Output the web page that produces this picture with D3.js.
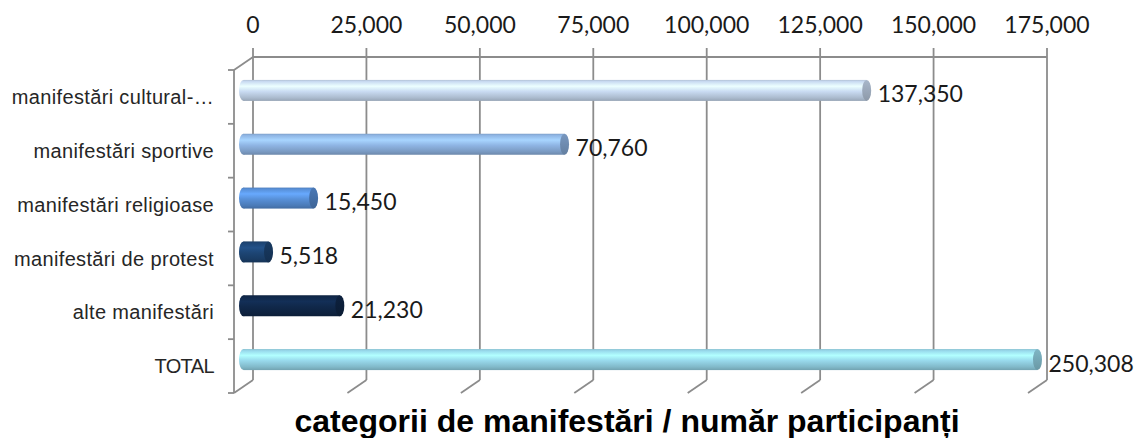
<!DOCTYPE html>
<html>
<head>
<meta charset="utf-8">
<script src="https://cdn.jsdelivr.net/npm/d3@7"></script>
<style>
  html, body { margin: 0; padding: 0; background: #fff; }
  svg { display: block; }
</style>
</head>
<body>
<svg id="chart" width="1141" height="438"></svg>
<script>
const categories = [
  "manifestări cultural-…",
  "manifestări sportive",
  "manifestări religioase",
  "manifestări de protest",
  "alte manifestări",
  "TOTAL",
]
const participants = [137350, 70760, 15450, 5518, 21230, 250308]
const barColors = ["#c9dbf2", "#8fb5e4", "#5890d8", "#1d4574", "#10284a", "#98d9ec"]
const tickValues = [0, 25000, 50000, 75000, 100000, 125000, 150000, 175000]
const title = "categorii de manifestări / număr participanți"

const W = 1141, H = 438
// back wall and depth offset of the pseudo 3D frame
const back = {left: 253, right: 1047, top: 57, bottom: 380}
const depth = {dx: -19, dy: 13}
const gridColor = "#8c8c8c"

const svg = d3.select("#chart")
const defs = svg.append("defs")

const x = d3.scaleLinear().domain([0, 175000]).range([back.left, back.right])
const y = d3.scaleBand().domain(categories).range([back.top, back.bottom]).paddingInner(0)

// gridlines on the back wall + floor diagonals
const grid = svg.append("g")
  .attr("stroke", gridColor).attr("stroke-width", 1.8).attr("fill", "none")

grid.selectAll("line.v")
  .data(tickValues)
  .join("line")
  .attr("class", "v")
  .attr("x1", (d) => x(d)).attr("x2", (d) => x(d))
  .attr("y1", back.top - 9).attr("y2", back.bottom)

grid.selectAll("line.f")
  .data(tickValues)
  .join("line")
  .attr("class", "f")
  .attr("x1", (d) => x(d)).attr("y1", back.bottom)
  .attr("x2", (d) => x(d) + depth.dx).attr("y2", back.bottom + depth.dy)

grid.append("line")
  .attr("x1", x(0)).attr("x2", x(175000))
  .attr("y1", back.top).attr("y2", back.top)

// side wall: top diagonal and front vertical axis
grid.append("line")
  .attr("x1", x(0)).attr("y1", back.top)
  .attr("x2", x(0) + depth.dx).attr("y2", back.top + depth.dy)

const frontX = x(0) + depth.dx
grid.append("line")
  .attr("x1", frontX).attr("x2", frontX)
  .attr("y1", back.top + depth.dy).attr("y2", back.bottom + depth.dy)

const bounds = categories.map((c) => y(c)).concat([back.bottom])
grid.selectAll("line.t")
  .data(bounds)
  .join("line")
  .attr("class", "t")
  .attr("x1", frontX - 6).attr("x2", frontX)
  .attr("y1", (d) => d + depth.dy).attr("y2", (d) => d + depth.dy)

// top tick labels
svg.append("g")
  .selectAll("text")
  .data(tickValues)
  .join("text")
  .attr("x", (d) => x(d))
  .attr("y", 33)
  .attr("text-anchor", "middle")
  .attr("font-family", "Lato, 'Open Sans', sans-serif")
  .attr("font-size", 23)
  .attr("fill", "#1a1a1a")
  .text((d) => d3.format(",")(d))

// category labels on the front plane
svg.append("g")
  .selectAll("text")
  .data(categories)
  .join("text")
  .attr("x", 214)
  .attr("y", (d) => y(d) + y.bandwidth() / 2 + depth.dy)
  .attr("dy", "0.36em")
  .attr("text-anchor", "end")
  .attr("font-family", "'Liberation Sans', Arial, sans-serif")
  .attr("font-size", 20)
  .attr("letter-spacing", (d) => (d === "TOTAL" ? -0.6 : 0.35))
  .attr("fill", "#262626")
  .text((d) => d)

// cylinder gradients
barColors.forEach((c, i) => {
  const base = d3.color(c)
  const body = defs.append("linearGradient")
    .attr("id", `body${i}`).attr("x1", 0).attr("y1", 0).attr("x2", 0).attr("y2", 1)
  const stops = [
    [0, base.darker(0.35)],
    [0.08, base],
    [0.3, base.brighter(0.45)],
    [0.55, base],
    [0.85, base.darker(0.45)],
    [1, base.darker(0.8)],
  ]
  stops.forEach(([o, col]) => body.append("stop").attr("offset", o).attr("stop-color", col.formatHex()))

  const cap = defs.append("linearGradient")
    .attr("id", `cap${i}`).attr("x1", 0).attr("y1", 0).attr("x2", 0).attr("y2", 1)
  cap.append("stop").attr("offset", 0).attr("stop-color", base.darker(0.5).formatHex())
  cap.append("stop").attr("offset", 1).attr("stop-color", base.darker(1.0).formatHex())
})

const barH = 21
const rx = 4.5
const mid = {dx: depth.dx / 2, dy: depth.dy / 2}
const rows = categories.map((c, i) => ({
  cat: c,
  value: participants[i],
  i,
  cy: y(c) + y.bandwidth() / 2 + mid.dy,
  x0: x(0) + mid.dx,
  x1: x(Math.min(participants[i], 175000)) + mid.dx,
}))

const bars = svg.append("g")
  .selectAll("g")
  .data(rows)
  .join("g")

bars.append("ellipse")
  .attr("cx", (d) => d.x0).attr("cy", (d) => d.cy)
  .attr("rx", rx).attr("ry", barH / 2)
  .attr("fill", (d) => `url(#body${d.i})`)

bars.append("rect")
  .attr("x", (d) => d.x0).attr("y", (d) => d.cy - barH / 2)
  .attr("width", (d) => d.x1 - d.x0).attr("height", barH)
  .attr("fill", (d) => `url(#body${d.i})`)

bars.append("ellipse")
  .attr("cx", (d) => d.x1).attr("cy", (d) => d.cy)
  .attr("rx", rx).attr("ry", barH / 2)
  .attr("fill", (d) => `url(#cap${d.i})`)

// value labels
bars.append("text")
  .attr("x", (d) => d.x1 + 11)
  .attr("y", (d) => d.cy + 12)
  .attr("font-family", "Lato, 'Open Sans', sans-serif")
  .attr("font-size", 23)
  .attr("fill", "#1a1a1a")
  .text((d) => d3.format(",")(d.value))

svg.append("text")
  .attr("x", 627)
  .attr("y", 432)
  .attr("text-anchor", "middle")
  .attr("font-family", "'Liberation Sans', Arial, sans-serif")
  .attr("font-weight", "bold")
  .attr("font-size", 32)
  .attr("fill", "#000")
  .text(title)
</script>
</body>
</html>
